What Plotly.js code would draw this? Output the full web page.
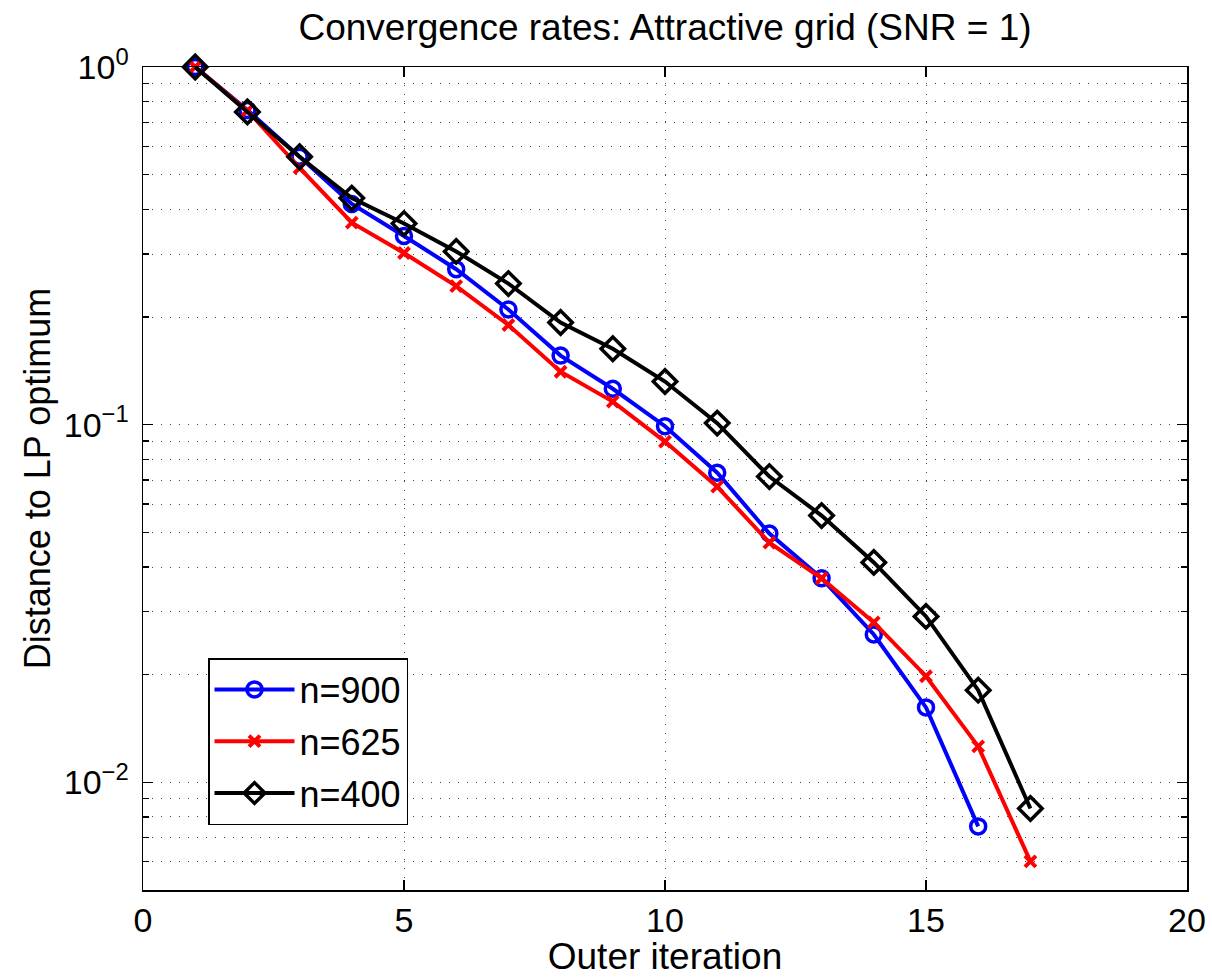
<!DOCTYPE html>
<html>
<head>
<meta charset="utf-8">
<script src="https://cdn.plot.ly/plotly-3.0.1.min.js"></script>
<style>
html,body{margin:0;padding:0;background:#fff;}
#chart{width:1212px;height:977px;}
</style>
</head>
<body>
<div id="chart"></div>
<script>
// ---- data ----
var iter900 = [1,2,3,4,5,6,7,8,9,10,11,12,13,14,15,16];
var n900 = [1.0,0.758,0.561,0.414,0.337,0.272,0.21,0.156,0.126,0.099,0.0734,0.0496,0.0372,0.0259,0.0162,0.00753];

var iter625 = [1,2,3,4,5,6,7,8,9,10,11,12,13,14,15,16,17];
var n625 = [1.0,0.755,0.522,0.367,0.302,0.244,0.19,0.1406,0.116,0.0897,0.0671,0.0468,0.0372,0.028,0.0198,0.0126,0.00601];

var iter400 = [1,2,3,4,5,6,7,8,9,10,11,12,13,14,15,16,17];
var n400 = [1.0,0.749,0.561,0.43,0.365,0.305,0.248,0.193,0.163,0.132,0.101,0.0716,0.0557,0.0412,0.0291,0.0181,0.00845];

var seriesNames = ["n=900","n=625","n=400"];

var xTicks = [0,5,10,15,20];
var yTickVals = [0.01,0.1,1];
var yTickText = ["10<sup>\u22122</sup>","10<sup>\u22121</sup>","10<sup>0</sup>"];
var yMinorVals = [0.006,0.007,0.008,0.009,0.02,0.03,0.04,0.05,0.06,0.07,0.08,0.09,0.2,0.3,0.4,0.5,0.6,0.7,0.8,0.9];

var FONT = "Liberation Sans, Arial, Helvetica, sans-serif";

var traces = [
  {x: iter900, y: n900, name: seriesNames[0], legendgroup: "a", mode: "lines+markers", type: "scatter", cliponaxis: false,
   line: {color: "#0000ff", width: 4},
   marker: {symbol: "circle-open", size: 15, color: "#0000ff", line: {width: 3.5, color: "#0000ff"}}},
  {x: iter625, y: n625, name: seriesNames[1], legendgroup: "b", mode: "lines+markers", type: "scatter", cliponaxis: false,
   line: {color: "#ff0000", width: 4},
   marker: {symbol: "x-thin-open", size: 11, color: "#ff0000", line: {width: 4, color: "#ff0000"}}},
  {x: iter400, y: n400, name: seriesNames[2], legendgroup: "c", mode: "lines+markers", type: "scatter", cliponaxis: false,
   line: {color: "#000000", width: 4},
   marker: {symbol: "diamond-open", size: 18, color: "#000000", line: {width: 3.5, color: "#000000"}}}
];

var layout = {
  width: 1212, height: 977,
  margin: {l: 143, r: 25, t: 67, b: 87, pad: 0},
  paper_bgcolor: "#ffffff", plot_bgcolor: "#ffffff",
  font: {family: FONT, size: 34, color: "#000"},
  showlegend: true,
  title: {text: "Convergence rates: Attractive grid (SNR = 1)", font: {family: FONT, size: 37, color: "#000"},
          x: 0.5, xref: "paper", xanchor: "center", y: 1 - 27/977, yref: "container", yanchor: "middle"},
  xaxis: {
    range: [0, 20], tickmode: "array", tickvals: xTicks, ticktext: xTicks.map(String),
    ticks: "inside", ticklen: 10, tickwidth: 1.2, tickcolor: "#000",
    showline: true, linecolor: "#000", linewidth: 1.5, mirror: "allticks",
    showgrid: true, gridcolor: "#444", gridwidth: 1, griddash: "1px,8px",
    zeroline: false, tickfont: {family: FONT, size: 34, color: "#000"},
    title: {text: "Outer iteration", font: {family: FONT, size: 37, color: "#000"}, standoff: 6},
    automargin: false
  },
  yaxis: {
    type: "log", range: [Math.log10(0.005), 0],
    tickmode: "array", tickvals: yTickVals, ticktext: yTickText,
    ticks: "inside", ticklen: 10, tickwidth: 1.2, tickcolor: "#000", ticklabelstandoff: 6,
    showline: true, linecolor: "#000", linewidth: 1.5, mirror: "allticks",
    showgrid: true, gridcolor: "#444", gridwidth: 1, griddash: "1px,8px",
    minor: {tickmode: "array", tickvals: yMinorVals, ticks: "inside", ticklen: 6, tickcolor: "#000",
            showgrid: true, gridcolor: "#444", gridwidth: 1, griddash: "1px,8px"},
    zeroline: false, tickfont: {family: FONT, size: 34, color: "#000"},
    title: {text: "Distance to LP optimum", font: {family: FONT, size: 36, color: "#000"}, standoff: 2},
    automargin: false
  },
  legend: {
    x: (208-143)/1044, y: (890-658)/823, xanchor: "left", yanchor: "top",
    bgcolor: "#ffffff", bordercolor: "#000", borderwidth: 1.5,
    font: {family: FONT, size: 36, color: "#000"},
    traceorder: "grouped", itemwidth: 80, tracegroupgap: 2
  }
};

Plotly.newPlot("chart", traces, layout, {displayModeBar: false, staticPlot: true});
</script>
</body>
</html>
